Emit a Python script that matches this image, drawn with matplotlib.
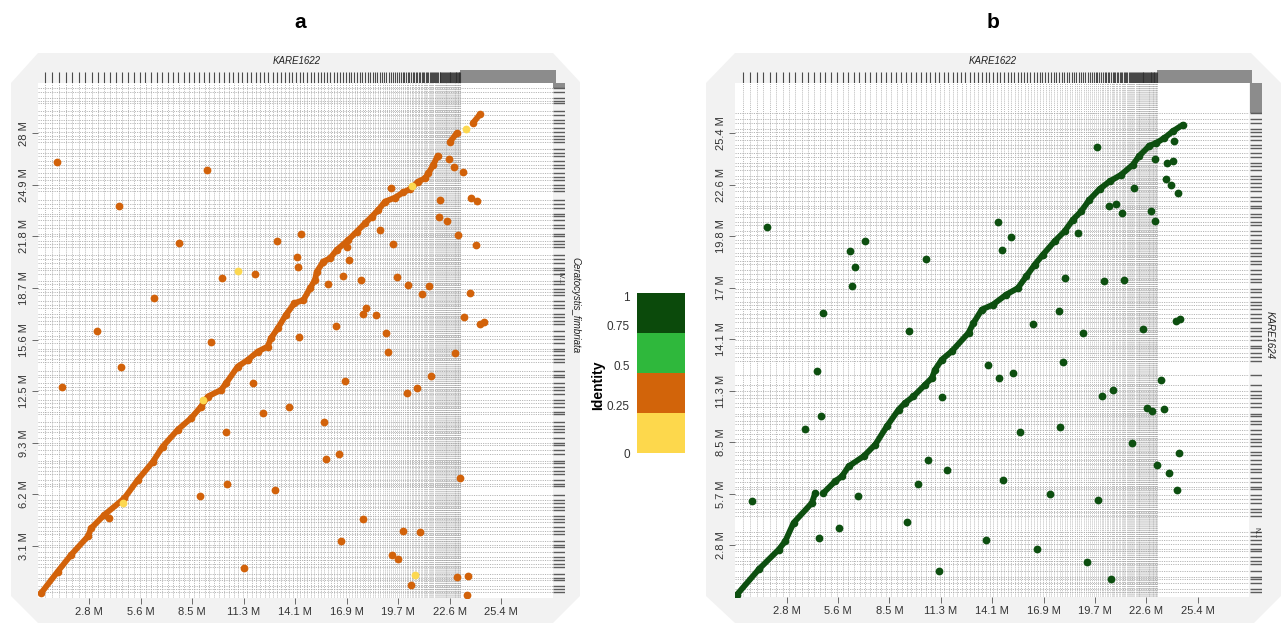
import numpy as np
import matplotlib
matplotlib.use("Agg")
import matplotlib.pyplot as plt
from matplotlib.patches import Polygon

plt.rcParams['font.family'] = ['Liberation Sans Narrow', 'Liberation Sans', 'DejaVu Sans']

W, H = 1281, 623

# longitudes de contigs (Mb)
kare1622_contigs = [
    0.42, 0.38, 0.37, 0.37, 0.36, 0.36, 0.35, 0.35, 0.34, 0.34,
    0.33, 0.33, 0.33, 0.32, 0.32, 0.32, 0.31, 0.31, 0.31, 0.30,
    0.30, 0.30, 0.29, 0.29, 0.29, 0.28, 0.28, 0.28, 0.27, 0.27,
    0.27, 0.26, 0.26, 0.26, 0.25, 0.25, 0.25, 0.24, 0.24, 0.24,
    0.23, 0.23, 0.23, 0.22, 0.22, 0.22, 0.21, 0.21, 0.21, 0.20,
    0.20, 0.20, 0.19, 0.19, 0.19, 0.18, 0.18, 0.18, 0.17, 0.17,
    0.17, 0.17, 0.16, 0.16, 0.16, 0.16, 0.15, 0.15, 0.15, 0.15,
    0.14, 0.14, 0.14, 0.14, 0.13, 0.13, 0.13, 0.13, 0.12, 0.12,
    0.12, 0.12, 0.11, 0.11, 0.11, 0.11, 0.10, 0.10, 0.10, 0.10,
    0.09, 0.09, 0.09, 0.09, 0.09, 0.08, 0.08, 0.08, 0.08, 0.08,
    0.08, 0.07, 0.07, 0.07, 0.07, 0.07, 0.07, 0.06, 0.06, 0.06,
    0.06, 0.06, 0.06, 0.06, 0.06, 0.05, 0.05, 0.05, 0.05, 0.05,
    0.05, 0.05, 0.05, 0.05, 0.05, 0.05, 0.05, 0.05, 0.05, 0.05,
    0.05, 0.04, 0.04, 0.04, 0.04, 0.04, 0.04, 0.04, 0.04,
]
kare1622_total = 28.2

cfim_contigs = [
    0.31, 0.22, 0.18, 0.35, 0.12, 0.27, 0.41, 0.15, 0.24, 0.19,
    0.33, 0.28, 0.14, 0.22, 0.46, 0.17, 0.25, 0.30, 0.13, 0.21,
    0.38, 0.16, 0.26, 0.19, 0.29, 0.55, 0.12, 0.23, 0.34, 0.18,
    0.27, 0.21, 0.15, 0.42, 0.24, 0.31, 0.11, 0.28, 0.36, 0.20,
    0.17, 0.25, 0.48, 0.13, 0.30, 0.22, 0.19, 0.37, 0.26, 0.14,
    0.29, 0.33, 0.16, 0.24, 0.52, 0.18, 0.21, 0.27, 0.12, 0.35,
    0.23, 0.19, 0.31, 0.44, 0.15, 0.26, 0.20, 0.34, 0.17, 0.28,
    0.36, 0.14, 0.22, 0.29, 0.18, 0.40, 0.25, 0.13, 0.32, 0.21,
    0.26, 0.47, 0.17, 0.23, 0.30, 0.12, 0.35, 0.19, 0.28, 0.24,
    0.15, 0.32, 0.27, 0.20, 0.58, 0.16, 0.22, 0.29, 0.14, 0.25,
    0.34, 0.18, 0.24, 0.31, 0.13, 0.27, 0.39, 0.20, 0.16, 0.30,
    0.22, 0.28, 0.17, 0.33, 0.25, 0.45, 0.14, 0.21, 0.36, 0.19,
]
cfim_total = 31.07

kare1624_contigs = [
    0.26, 0.18, 0.33, 0.21, 0.14, 0.29, 0.38, 0.17, 0.23, 0.31,
    0.15, 0.27, 0.21, 0.24, 0.18, 0.90,
    0.22, 0.16, 0.30, 0.25, 0.19, 0.34, 0.14, 0.27, 0.21, 0.32,
    0.18, 0.26, 0.20, 0.29, 0.15, 0.33, 0.24, 0.17, 0.28, 0.22,
    0.31, 0.19, 0.25, 0.14, 0.36, 0.21, 0.27, 0.18, 0.23, 0.30,
    0.59, 0.73,
    0.24, 0.19, 0.28, 0.15, 0.32, 0.22, 0.26, 0.17, 0.35, 0.21,
    0.18, 0.29, 0.23, 0.14, 0.31, 0.25, 0.20, 0.37, 0.16, 0.27,
    0.22, 0.33, 0.19, 0.26, 0.15, 0.30, 0.24, 0.18, 0.28, 0.21,
    0.34, 0.17, 0.25, 0.20, 0.29, 0.14, 0.27, 0.23, 0.31, 0.19,
    0.26, 0.21, 0.16, 0.30, 0.24, 0.18, 0.33, 0.22, 0.27, 0.15,
    0.29, 0.20, 0.25, 0.17, 0.32, 0.23, 0.31,
]
kare1624_total = 28.2

# ticks
x_ticks = [2.82, 5.64, 8.46, 11.28, 14.1, 16.92, 19.74, 22.56, 25.38]
x_labels = ['2.8 M', '5.6 M', '8.5 M', '11.3 M', '14.1 M', '16.9 M', '19.7 M', '22.6 M', '25.4 M']
ya_ticks = [3.115, 6.23, 9.345, 12.46, 15.575, 18.69, 21.805, 24.92, 28.035]
ya_labels = ['3.1 M', '6.2 M', '9.3 M', '12.5 M', '15.6 M', '18.7 M', '21.8 M', '24.9 M', '28 M']
yb_ticks = [2.826, 5.652, 8.478, 11.304, 14.13, 16.956, 19.782, 22.608, 25.434]
yb_labels = ['2.8 M', '5.7 M', '8.5 M', '11.3 M', '14.1 M', '17 M', '19.8 M', '22.6 M', '25.4 M']

# alineamientos panel a (KARE1622 vs C. fimbriata)
diag_a_x = [0.18, 1.09, 1.82, 2.74, 2.92, 3.65, 4.74, 5.47, 6.30, 6.84, 7.66, 8.39, 8.94, 9.31,
            10.04, 10.31, 10.95, 11.50, 12.04, 12.59, 12.77, 13.14, 13.59, 14.05, 14.55, 14.91,
            15.18, 15.28, 15.64, 16.01, 16.37, 17.00, 17.47, 17.92, 18.29, 18.65, 19.02, 19.56,
            20.02, 20.39, 20.84, 21.21, 21.39, 21.66, 21.90, np.nan, 22.58, 22.94, np.nan, 23.85, 24.22]
diag_a_y = [0.27, 1.57, 2.58, 3.69, 4.19, 5.00, 6.00, 7.10, 8.20, 9.12, 10.13, 10.83, 11.53, 12.14,
            12.54, 12.94, 13.95, 14.35, 14.85, 15.16, 15.66, 16.26, 17.07, 17.77, 17.97, 18.68,
            19.18, 19.68, 20.29, 20.49, 20.99, 21.59, 22.10, 22.60, 23.00, 23.41, 23.91, 24.15,
            24.47, 24.67, 25.12, 25.32, 25.62, 26.12, 26.68, np.nan, 27.53, 28.03, np.nan, 28.68, 29.18]
dots_a_x = [1.04, 9.25, 4.47, 7.76, 13.10, 14.18, 10.09, 11.90, 6.39, 3.25, 9.49, 4.54, 1.31, 11.79,
            12.35, 13.78, 10.33, 10.38, 8.91, 12.99, 3.89, 11.28, 14.42, 14.24, 14.33, 19.33, 18.73,
            19.47, 16.96, 17.06, 16.74, 15.88, 17.70, 19.66, 20.29, 21.02, 21.41, 18.00, 17.81, 18.51,
            16.35, 19.09, 19.20, 16.85, 21.54, 20.79, 20.22, 15.66, 15.77, 16.48, 17.83, 16.63, 19.98,
            20.93, 19.38, 19.75, 20.42, 22.98, 23.56, 23.51, 23.12, 22.85, 23.36, 24.24, 24.46, 23.65,
            24.00, 23.03, 21.97, 22.41, 22.05, 23.72, 24.04, 22.52, 22.79, 23.27]
dots_a_y = [26.28, 25.80, 23.63, 21.41, 21.51, 20.59, 19.28, 19.52, 18.11, 16.10, 15.42, 13.93, 12.74,
            12.98, 11.17, 11.53, 9.98, 6.83, 6.16, 6.48, 4.83, 1.77, 21.96, 19.94, 15.72, 24.75, 22.20,
            21.33, 21.15, 20.39, 19.44, 18.92, 19.18, 19.34, 18.86, 18.33, 18.80, 17.51, 17.15, 17.05,
            16.38, 16.00, 14.85, 13.10, 13.39, 12.68, 12.38, 10.61, 8.35, 8.70, 4.77, 3.40, 4.05,
            3.95, 2.58, 2.32, 0.77, 1.27, 1.33, 0.13, 7.23, 14.79, 16.97, 16.50, 16.65, 18.40,
            21.27, 21.92, 23.00, 22.74, 24.01, 24.11, 23.97, 26.48, 26.02, 25.70]
low_a_x = [4.65, 9.07, 10.99, 20.51, 23.45, 20.66]
low_a_y = [5.70, 11.94, 19.74, 24.87, 28.27, 1.39]

# alineamientos panel b (KARE1622 vs KARE1624)
diag_b_x = [0.09, 1.28, 2.38, 2.74, 3.20, 4.20, 4.39, np.nan, 4.84, 5.48, 5.85, 6.22, 7.04, 7.68,
            8.32, 8.96, 9.32, 9.78, 10.42, 10.79, 10.97, 11.33, 11.88, 12.80, 13.07, 13.53, 14.14,
            14.87, 15.51, 15.97, 16.43, 16.88, 17.52, 18.07, 18.53, 18.98, 19.44, 19.99, 20.54,
            21.18, 21.82, 22.18, 22.73, 23.10, 23.55, 24.01, 24.56]
diag_b_y = [0.13, 1.51, 2.60, 3.06, 4.07, 5.16, 5.71, np.nan, 5.71, 6.35, 6.62, 7.17, 7.72, 8.36,
            9.37, 10.28, 10.65, 11.01, 11.65, 12.02, 12.48, 13.02, 13.48, 14.49, 15.03, 15.77, 16.04,
            16.59, 16.95, 17.59, 18.23, 18.78, 19.51, 20.06, 20.70, 21.16, 21.80, 22.38, 22.80,
            23.17, 23.72, 24.21, 24.76, 24.91, 25.18, 25.55, 25.91]
dots_b_x = [1.74, 7.11, 6.31, 6.58, 6.38, 10.46, 4.79, 9.54, 4.50, 13.86, 11.32, 4.68, 3.84, 10.55,
            11.61, 10.02, 6.75, 0.91, 5.67, 9.45, 4.61, 13.75, 11.19, 19.86, 24.10, 23.06, 23.68,
            24.03, 23.63, 23.94, 24.32, 21.87, 20.50, 20.90, 21.21, 22.82, 23.01, 14.40, 15.11,
            14.65, 18.80, 18.09, 20.26, 21.36, 17.76, 16.32, 19.10, 22.35, 24.19, 24.43, 17.98,
            14.45, 15.24, 20.14, 20.74, 23.39, 22.62, 22.88, 23.54, 15.60, 17.81, 21.75, 24.36,
            23.12, 23.83, 24.27, 14.72, 17.27, 19.92, 16.57, 19.33, 20.63]
dots_b_y = [20.28, 19.53, 18.98, 18.11, 17.05, 18.56, 15.56, 14.58, 12.42, 12.75, 10.98, 9.92, 9.24,
            7.52, 6.95, 6.22, 5.56, 5.24, 3.79, 4.10, 3.24, 3.11, 1.45, 24.69, 25.00, 24.05, 23.79,
            23.92, 22.93, 22.60, 22.15, 22.44, 21.45, 21.58, 21.07, 21.20, 20.61, 20.57, 19.77,
            19.06, 19.99, 17.48, 17.34, 17.41, 15.67, 14.98, 14.49, 14.69, 15.13, 15.24, 12.90,
            12.02, 12.29, 11.05, 11.34, 11.93, 10.39, 10.21, 10.32, 9.04, 9.30, 8.47, 7.92,
            7.25, 6.81, 5.88, 6.44, 5.64, 5.31, 2.66, 1.93, 1.01]

identity_breaks = [0, 0.25, 0.5, 0.75, 1]
identity_colors = ['#fdd84c', '#d2640a', '#2fb83c', '#0b4a0b']
identity_labels = ['0', '0.25', '0.5', '0.75', '1']

ORANGE = '#d2620a'
YELLOW = '#fcd850'
DGREEN = '#0d4f10'

fig = plt.figure(figsize=(W / 100, H / 100), dpi=100)


def px_axes(x0, y0, x1, y1, **kw):
    return fig.add_axes([x0 / W, 1 - y1 / H, (x1 - x0) / W, (y1 - y0) / H], **kw)


bg = fig.add_axes([0, 0, 1, 1], zorder=-5)
bg.set_xlim(0, W)
bg.set_ylim(H, 0)
bg.axis('off')
for pts in ([(11, 83), (38, 53), (553, 53), (580, 82), (580, 596), (553, 623), (38, 623), (11, 596)],
            [(706, 83), (735, 53), (1251, 53), (1281, 83), (1281, 596), (1254, 623), (735, 623), (706, 596)]):
    bg.add_patch(Polygon(pts, closed=True, facecolor='#f2f2f2', edgecolor='none'))


def dibujar_panel(x0, x1, y0, y1, ycontigs, ytotal, yticks, ylabels):
    xb = np.cumsum(kare1622_contigs)
    yb = np.cumsum(ycontigs)
    ax = px_axes(x0, y0, x1, y1, facecolor='white')
    ax.vlines(xb, 0, ytotal, colors='#a2a2a2', linewidth=0.5, linestyles=(0, (1.5, 1.5)), zorder=1)
    ax.hlines(yb, 0, kare1622_total, colors='#a2a2a2', linewidth=0.55, linestyles=(0, (1.5, 1.5)), zorder=1)
    ax.set_xlim(0, kare1622_total)
    ax.set_ylim(0, ytotal)
    for s in ax.spines.values():
        s.set_visible(False)
    ax.set_xticks(x_ticks, x_labels)
    ax.set_yticks(yticks, ylabels)
    ax.tick_params(length=4.5, width=0.6, color='#555555', labelsize=8, labelcolor='#333333', pad=2)
    for lab in ax.get_yticklabels():
        lab.set_rotation(90)
        lab.set_va('center')

    # barra superior: limites de contigs de KARE1622
    top = px_axes(x0, 70, x1 + 3, 83, facecolor='none')
    top.vlines(xb, 0, 0.85, colors='#2e2e2e', linewidth=0.8, alpha=0.85)
    top.axvspan(xb[-1], kare1622_total + 0.2, color='#8c8c8c', lw=0)
    top.set_xlim(0, kare1622_total + 0.2)
    top.set_ylim(0, 1)
    top.axis('off')

    # barra derecha: limites de contigs del eje y
    rb = px_axes(x1 + 0.5, y0, x1 + 12.5, y1, facecolor='white')
    rb.hlines(yb, 0, 1, colors='#2a2a2a', linewidth=1.0, alpha=0.75)
    rb.axhspan(yb[-1], ytotal, color='#8c8c8c', lw=0)
    rb.set_ylim(0, ytotal)
    rb.set_xlim(0, 1)
    rb.axis('off')
    return ax


ax_a = dibujar_panel(37.8, 552.7, 83, 597.6, cfim_contigs, cfim_total, ya_ticks, ya_labels)
ax_a.plot(diag_a_x, diag_a_y, '-o', color=ORANGE, lw=4.2, ms=5.5, mec='none',
          solid_capstyle='round', solid_joinstyle='round', zorder=3)
ax_a.plot(dots_a_x, dots_a_y, 'o', color=ORANGE, ms=5.6, mec='none', zorder=3)
ax_a.plot(low_a_x, low_a_y, 'o', color=YELLOW, ms=5.6, mec='none', zorder=4)

ax_b = dibujar_panel(735.3, 1249.1, 83, 597, kare1624_contigs, kare1624_total, yb_ticks, yb_labels)
ax_b.plot(diag_b_x, diag_b_y, '-o', color=DGREEN, lw=4.2, ms=5.5, mec='none',
          solid_capstyle='round', solid_joinstyle='round', zorder=3)
ax_b.plot(dots_b_x, dots_b_y, 'o', color=DGREEN, ms=5.6, mec='none', zorder=3)

# textos
bg.text(300, 23, 'a', fontsize=15, fontweight='bold', ha='center', va='center', family='Liberation Sans')
bg.text(993, 23, 'b', fontsize=15, fontweight='bold', ha='center', va='center', family='Liberation Sans')
bg.text(297, 61, 'KARE1622', fontsize=7, style='italic', ha='center', va='center', color='#222222')
bg.text(993, 61, 'KARE1622', fontsize=7, style='italic', ha='center', va='center', color='#222222')
bg.text(575, 305, 'Ceratocystis_fimbriata', fontsize=7, style='italic', rotation=-90,
        ha='center', va='center', color='#222222')
bg.text(1270, 335, 'KARE1624', fontsize=7, style='italic', rotation=-90,
        ha='center', va='center', color='#222222')
bg.text(560, 278, 'IV...', fontsize=5, rotation=-90, ha='center', va='center', color='#222222')
bg.text(1256, 533, 'N...', fontsize=5, rotation=-90, ha='center', va='center', color='#222222')

# leyenda de identidad
cb = px_axes(637, 293, 685, 453)
for lo, hi, c in zip(identity_breaks[:-1], identity_breaks[1:], identity_colors):
    cb.axhspan(lo, hi, color=c, lw=0)
cb.set_ylim(0, 1)
cb.set_xlim(0, 1)
cb.axis('off')
label_pos = [-0.015, 0.29, 0.54, 0.79, 0.97]
for lab, p in zip(identity_labels, label_pos):
    cb.text(-0.15, p, lab, fontsize=8.5, ha='right', va='center', color='#333333',
            transform=cb.get_yaxis_transform(), family='Liberation Sans')
bg.text(598, 385, 'Identity', fontsize=10, fontweight='bold', rotation=90, ha='center', va='center',
        family='Liberation Sans')

fig.savefig('out.png', dpi=100)
